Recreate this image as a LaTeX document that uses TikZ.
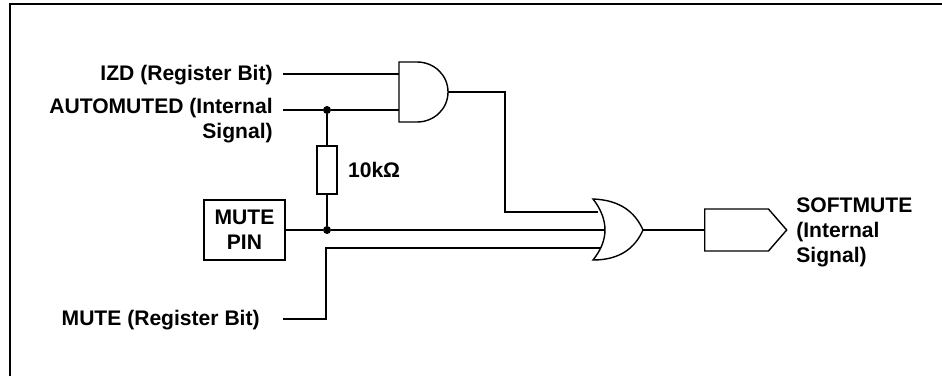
\documentclass[tikz,border=0pt]{standalone}
\usepackage{fontspec}
\setmainfont{Liberation Sans}
\usetikzlibrary{positioning,shapes.symbols}

\tikzset{
	wire/.style={black,line width=.8pt},
	sigtext/.style={inner sep=0pt,font=\fontsize{12}{14.2}\selectfont\bfseries},
	joint/.style={circle,fill=black,inner sep=0pt,minimum size=.16cm},
	gatebox/.style={draw,line width=.8pt,inner sep=0pt}
}

\begin{document}
\begin{tikzpicture}[x=.02cm,y=-.02cm]

	\useasboundingbox (0,0) rectangle (942,376);

	% frame, open on two sides
	\coordinate (FA) at (10,376);
	\coordinate (FB) at (10,4);
	\coordinate (FC) at (942,4);
	\draw[line width=1.2pt] (FA) -- (FB) -- (FC);

	% the two gates
	\draw[wire] (399,62) -- (417,62) .. controls (434,62) and (448,75) .. (448,92) .. controls (448,109) and (434,122) .. (417,122) -- (399,122) -- cycle;
	\draw[wire] (593,199) .. controls (620,200) and (635,212) .. (643,230) .. controls (635,248) and (620,260) .. (593,260) .. controls (601,250) and (605,240) .. (605,230) .. controls (605,220) and (601,209) .. (593,199) -- cycle;

	\coordinate (ANDA) at (399,74);
	\coordinate (ANDB) at (399,110);
	\coordinate (ANDO) at (448,92);
	\coordinate (ORA) at (598,212);
	\coordinate (ORB) at (605,230);
	\coordinate (ORC) at (600,248);
	\coordinate (ORO) at (643,230);

	\node[gatebox,signal,signal to=east,signal pointer angle=98,minimum height=.84cm,minimum width=1.64cm,anchor=west] (OUT) at (704,230) {};
	\node[gatebox,minimum width=.4cm,minimum height=.96cm] (RES) at (327,170) {};
	\node[gatebox,minimum width=1.62cm,minimum height=1.2cm,align=center,font=\fontsize{12}{14.2}\selectfont\bfseries] (PIN) at (244.5,230) {MUTE\\PIN};

	\node[joint] (J1) at (327,110) {};
	\node[joint] (J2) at (327,230) {};

	\node[sigtext,anchor=east] (IZD) at (273,75.5) {IZD (Register Bit)};
	\node[sigtext,anchor=east,align=right] (AUTO) at (273,120.5) {AUTOMUTED (Internal\\Signal)};
	\node[sigtext,anchor=east] (MUTE) at (260,320.5) {MUTE (Register Bit)};
	\node[sigtext,right=.2cm of RES] (VAL) {10kΩ};
	\node[sigtext,anchor=west,align=left] (SOFT) at (796,232) {SOFTMUTE\\(Internal\\Signal)};

	\coordinate (AUTOIN) at (283,110);
	\coordinate (IZDIN) at (283,74);
	\coordinate (MUTEIN) at (283,319);
	\coordinate (MUTEUP) at (326,248);
	\coordinate (ANDUP) at (505,212);

	\draw[wire] (IZDIN) -- (ANDA);
	\draw[wire] (AUTOIN) -- (J1);
	\draw[wire] (J1) -- (ANDB);
	\draw[wire] (J1) -- (RES);
	\draw[wire] (RES) -- (J2);
	\draw[wire] (PIN) -- (J2);
	\draw[wire] (J2) -- (ORB);
	\draw[wire] (MUTEIN) -| (MUTEUP) -- (ORC);
	\draw[wire] (ANDO) -| (ANDUP) -- (ORA);
	\draw[wire] (ORO) -- (OUT);

\end{tikzpicture}
\end{document}
